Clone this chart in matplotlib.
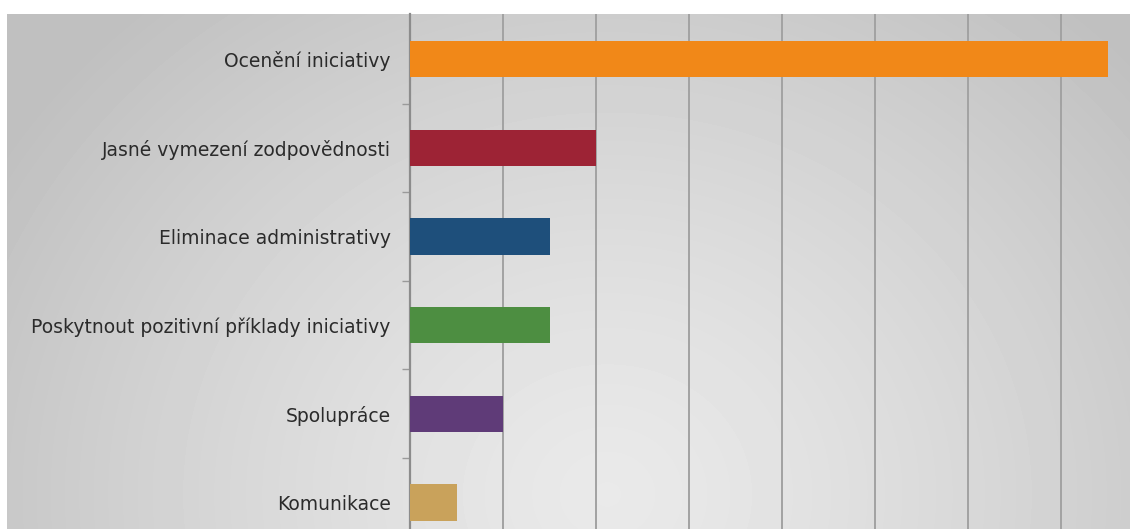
import numpy as np
import matplotlib
matplotlib.use("Agg")
import matplotlib.pyplot as plt

# Hodnoty pro jednotlivá opatření
kategorie = ["Ocenění iniciativy", "Jasné vymezení zodpovědnosti", "Eliminace administrativy",
             "Poskytnout pozitivní příklady iniciativy", "Spolupráce", "Komunikace"]
pocty = [15, 4, 3, 3, 2, 1]
barvy = ["#F18818", "#9D2335", "#1E4F7B", "#4D8E41", "#5F3B78", "#C9A25B"]

W, H = 1130, 529
fig = plt.figure(figsize=(W / 100, H / 100), dpi=100)
fig.patch.set_facecolor("white")

# Šedé radiální pozadí grafu
bg = fig.add_axes([7 / W, 0, 1 - 7 / W, 1 - 14 / H], zorder=0)
yy, xx = np.mgrid[0:515, 0:1123]
r = np.sqrt(((xx - 600) / 1.0) ** 2 + ((yy - 480) / 0.9) ** 2)
t = np.clip(r / 720, 0, 1) ** 1.3
val = 0.915 - (0.915 - 0.75) * t
bg.imshow(val, cmap="gray", vmin=0, vmax=1, aspect="auto", interpolation="bilinear")
bg.axis("off")

ax = fig.add_axes([410 / W, 0, 1 - 410 / W, 1 - 14 / H], zorder=1)
ax.patch.set_alpha(0)

y = np.arange(len(kategorie))
ax.barh(y, pocty, height=0.41, color=barvy, zorder=3)

ax.set_xlim(0, 15.48)
ax.set_ylim(5.30, -0.51)
ax.set_xticks(np.arange(0, 16, 2))
ax.tick_params(axis="x", length=0, labelbottom=False)
ax.grid(axis="x", color="#a2a2a2", linewidth=1.4, zorder=1)

ax.set_yticks(y)
ax.set_yticklabels(kategorie, fontsize=13.5, color="#2b2b2b")
ax.tick_params(axis="y", which="major", length=0, pad=14)
ax.set_yticks(np.arange(0.5, 5, 1), minor=True)
ax.tick_params(axis="y", which="minor", length=6, width=1, color="#9a9a9a")

for s in ["top", "right", "bottom"]:
    ax.spines[s].set_visible(False)
ax.spines["left"].set_color("#8c8c8c")
ax.spines["left"].set_linewidth(1.6)

fig.savefig("out.png", dpi=100)
